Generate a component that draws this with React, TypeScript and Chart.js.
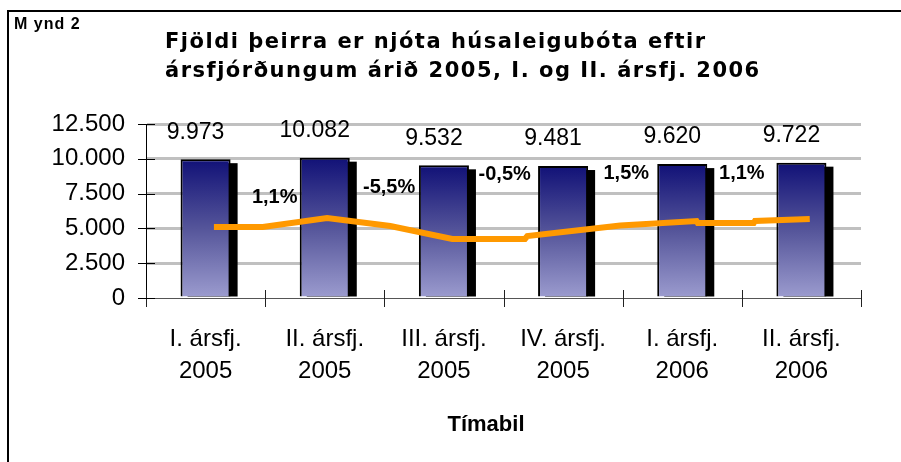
import React, { useEffect, useRef } from 'react';
import { Chart, registerables } from 'chart.js';

Chart.register(...registerables);

const categories: string[][] = [
  ['I. ársfj.', '2005'],
  ['II. ársfj.', '2005'],
  ['III. ársfj.', '2005'],
  ['IV. ársfj.', '2005'],
  ['I. ársfj.', '2006'],
  ['II. ársfj.', '2006'],
];
const recipients = [9973, 10082, 9532, 9481, 9620, 9722];
const changeLabels = ['1,1%', '-5,5%', '-0,5%', '1,5%', '1,1%'];
const changeLabelX = [0.58, 1.54, 2.51, 3.53, 4.5];
const changeLabelY = [7250, 7960, 8900, 8970, 8970];
const trendX = [0.07, 0.48, 1.02, 1.55, 2.07, 2.68, 2.7, 3.48, 4.12, 4.13, 4.6, 4.61, 5.07];
const trendY = [5100, 5100, 5750, 5170, 4240, 4240, 4450, 5210, 5530, 5390, 5390, 5530, 5680];
const yMin = 0;
const yMax = 12500;
const yStep = 2500;
const titleLines = ['Fjöldi þeirra er njóta húsaleigubóta eftir', 'ársfjórðungum árið 2005, I. og II. ársfj. 2006'];
const figureLabel = 'M ynd 2';
const xAxisTitle = 'Tímabil';

const fmt = (n: number) => String(n).replace(/\B(?=(\d{3})+(?!\d))/g, '.');

const shadowPlugin = {
  id: 'barShadow',
  beforeDatasetsDraw(chart: any) {
    const meta = chart.getDatasetMeta(1);
    const ctx = chart.ctx;
    ctx.save();
    ctx.fillStyle = '#000';
    meta.data.forEach((el: any) => {
      const { x, y, base, width } = el.getProps(['x', 'y', 'base', 'width'], true);
      ctx.fillRect(x - width / 2 + 7, y + 4, width, base - y - 4);
    });
    ctx.restore();
  },
};

const decorPlugin = {
  id: 'decor',
  afterDraw(chart: any) {
    const ctx = chart.ctx;
    const xs = chart.scales.x2;
    const ys = chart.scales.y;
    const area = chart.chartArea;
    ctx.save();
    // cross ticks
    ctx.strokeStyle = '#222';
    ctx.lineWidth = 1;
    for (let i = 0; i <= categories.length; i++) {
      const px = Math.round(xs.getPixelForValue(i - 0.5)) + 0.5;
      ctx.beginPath();
      ctx.moveTo(px, area.bottom - 8);
      ctx.lineTo(px, area.bottom + 9);
      ctx.stroke();
    }
    ctx.strokeStyle = '#000';
    for (let v = yMin; v <= yMax; v += yStep) {
      const py = Math.round(ys.getPixelForValue(v)) + 0.5;
      ctx.beginPath();
      ctx.moveTo(area.left - 8, py);
      ctx.lineTo(area.left + 9, py);
      ctx.stroke();
    }
    // value labels
    ctx.fillStyle = '#000';
    ctx.textAlign = 'center';
    ctx.textBaseline = 'middle';
    ctx.font = '23px "Liberation Sans", Arial, sans-serif';
    const meta = chart.getDatasetMeta(1);
    meta.data.forEach((el: any, i: number) => {
      const { x, y } = el.getProps(['x', 'y'], true);
      ctx.fillText(fmt(recipients[i]), x - 10, y - 27);
    });
    // change labels
    ctx.font = 'bold 20px "Liberation Sans", Arial, sans-serif';
    changeLabels.forEach((t, i) => {
      ctx.fillText(t, xs.getPixelForValue(changeLabelX[i]), ys.getPixelForValue(changeLabelY[i]));
    });
    // axis title
    ctx.font = 'bold 22px "Liberation Sans", Arial, sans-serif';
    ctx.fillText(xAxisTitle, 486, 425);
    // chart title
    ctx.textAlign = 'left';
    ctx.textBaseline = 'alphabetic';
    ctx.font = 'bold 21px "DejaVu Sans", Verdana, sans-serif';
    (ctx as any).letterSpacing = '1.5px';
    ctx.fillText(titleLines[0], 165, 48);
    ctx.fillText(titleLines[1], 165, 77);
    ctx.font = 'bold 16px "Liberation Sans", Arial, sans-serif';
    (ctx as any).letterSpacing = '1px';
    ctx.fillText(figureLabel, 14, 29);
    ctx.restore();
  },
};

export default function App() {
  const ref = useRef<HTMLCanvasElement | null>(null);
  useEffect(() => {
    if (!ref.current) return;
    const chart = new Chart(ref.current, {
      data: {
        labels: categories,
        datasets: [
          {
            type: 'line',
            data: trendX.map((x, i) => ({ x, y: trendY[i] })),
            xAxisID: 'x2',
            borderColor: '#ff9900',
            borderWidth: 6,
            pointRadius: 0,
            tension: 0,
            order: 0,
          } as any,
          {
            type: 'bar',
            data: recipients,
            xAxisID: 'x',
            grouped: false,
            backgroundColor: (c: any) => {
              const ch = c.chart;
              if (!ch.chartArea) return '#5555aa';
              const y = ch.scales.y;
              const top = y.getPixelForValue(c.raw ?? 0);
              const bottom = y.getPixelForValue(0);
              const g = ch.ctx.createLinearGradient(0, top, 0, bottom);
              g.addColorStop(0, '#111177');
              g.addColorStop(0.5, '#55559a');
              g.addColorStop(1, '#9c9ccf');
              return g;
            },
            borderColor: '#000',
            borderWidth: 2,
            barPercentage: 0.42,
            categoryPercentage: 1,
            order: 1,
          } as any,
        ],
      },
      options: {
        animation: false,
        responsive: false,
        layout: { padding: { left: 0, right: 40, top: 124, bottom: 0 } },
        plugins: { legend: { display: false }, tooltip: { enabled: false }, title: { display: false } },
        scales: {
          x: {
            type: 'category',
            grid: { drawOnChartArea: false, drawTicks: false },
            border: { display: true, color: '#555', width: 1 },
            ticks: {
              color: '#000',
              padding: 25,
              maxRotation: 0,
              autoSkip: false,
              font: { family: '"Liberation Sans", Arial, sans-serif', size: 24, lineHeight: 1.333 },
            },
            afterFit: (s: any) => { s.height = 164; },
          },
          x2: { type: 'linear', display: false, min: -0.5, max: 5.5 },
          y: {
            min: yMin,
            max: yMax,
            ticks: {
              stepSize: yStep,
              color: '#000',
              padding: 21,
              font: { family: '"Liberation Sans", Arial, sans-serif', size: 24 },
              callback: (v: any) => fmt(Number(v)),
            },
            grid: {
              drawTicks: false,
              lineWidth: 3,
              color: (c: any) => (c.tick && c.tick.value === 0 ? 'rgba(0,0,0,0)' : '#c0c0c0'),
            },
            border: { display: true, color: '#000', width: 1 },
            afterFit: (s: any) => { s.width = 146; },
          },
        },
      },
      plugins: [shadowPlugin, decorPlugin],
    });
    return () => chart.destroy();
  }, []);
  return (
    <div style={{ position: 'absolute', left: 0, top: 0, width: 901, height: 462, overflow: 'hidden', background: '#fff' }}>
      <div style={{ position: 'absolute', left: 7, top: 10, width: 1000, height: 1000, borderLeft: '2px solid #000', borderTop: '2px solid #000' }} />
      <canvas ref={ref} width={901} height={462} style={{ position: 'absolute', left: 0, top: 0 }} />
    </div>
  );
}
